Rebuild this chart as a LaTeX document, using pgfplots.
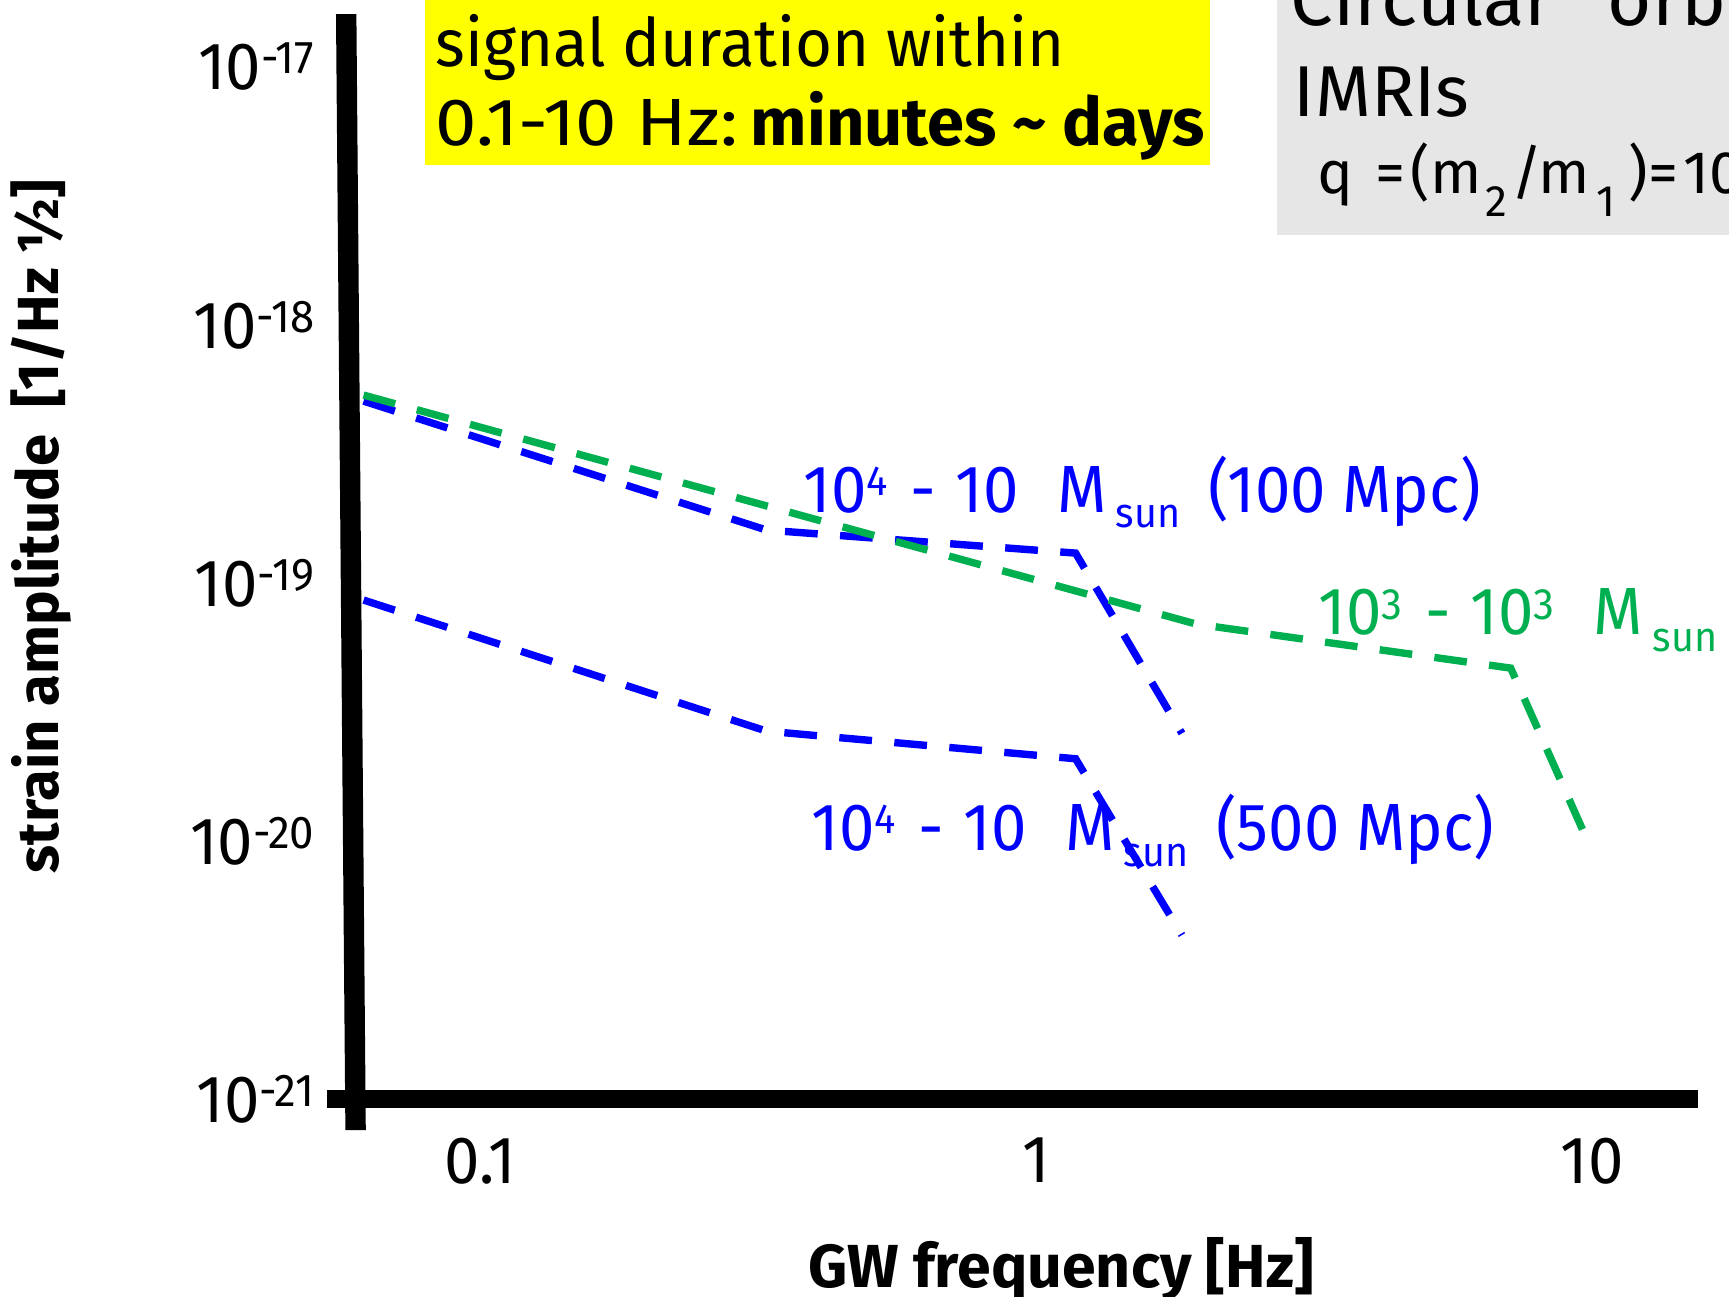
\documentclass[border=0pt]{standalone}
\usepackage{graphicx}
\usepackage{pgfplots}
\pgfplotsset{compat=1.18}
\usepackage{pgfplotstable}
\usepackage{fontspec}
\setmainfont{Fira Sans}[FakeStretch=0.95]
\newfontfamily\wfont{Fira Sans}
\definecolor{pblue}{RGB}{0,0,255}
\definecolor{pgreen}{RGB}{0,176,80}
\definecolor{pyellow}{RGB}{255,255,0}
\definecolor{pgray}{RGB}{230,230,230}
\newlength\px \setlength\px{0.25bp}
\newcommand\mainsize{\fontsize{16.7bp}{20bp}\selectfont}
\newcommand\supx[3]{\raisebox{#2}{\fontsize{#1}{#1}\selectfont #3}}
\newcommand\subx[3]{\raisebox{-#2}{\fontsize{#1}{#1}\selectfont #3}}
\newcommand\at[2]{\makebox[#1\px][l]{#2}}

\pgfplotstableread{
f h
0.06174 5.07e-19
0.3276 1.604e-19
1.178 1.306e-19
1.830 2.613e-20
}\bluenear
\pgfplotstableread{
f h
0.06174 8.59e-20
0.3276 2.667e-20
1.178 2.084e-20
1.830 4.32e-21
}\bluefar
\pgfplotstableread{
f h
0.06174 5.35e-19
1.943 6.93e-20
7.141 4.68e-20
9.610 1.11e-20
}\greeneq

\begin{document}
\begin{tikzpicture}
\path[use as bounding box] (0,0) rectangle (432.25bp,-324.25bp);
\clip (0,0) rectangle (432.25bp,-324.25bp);
\begin{axis}[
  at={(87.5bp,-274.75bp)}, anchor=south west,
  scale only axis, width=337bp, height=271.25bp,
  xmode=log, ymode=log,
  xmin=0.05836, xmax=15.51, ymin=1e-21, ymax=1.603e-17,
  axis line style={draw=none},
  tick style={draw=none}, minor tick style={draw=none},
  major tick length=0pt, minor tick length=0pt,
  xtick={0.1,1,10}, xticklabels={0.1,1,10},
  ytick={1e-21,1e-20,1e-19,1e-18,1e-17},
  yticklabels={{10\supx{11.5bp}{4bp}{-21}},{10\supx{11.5bp}{4bp}{-20}},{10\supx{11.5bp}{4bp}{-19}},{10\supx{11.5bp}{4bp}{-18}},{10\supx{11.5bp}{4bp}{-17}}},
  tick label style={font=\mainsize, inner sep=0pt},
  yticklabel style={anchor=east, xshift=-8.75bp},
  xticklabel style={anchor=north, yshift=-9.5bp},
  clip=false,
]
\addplot[pblue, line width=1.85bp, dash pattern=on 8.2bp off 5.6bp] table[x=f,y=h] {\bluenear};
\addplot[pblue, line width=1.85bp, dash pattern=on 8.2bp off 5.6bp] table[x=f,y=h] {\bluefar};
\addplot[pgreen, line width=1.85bp, dash pattern=on 8.2bp off 5.6bp] table[x=f,y=h] {\greeneq};
\draw[line width=5.1bp] ([xshift=-0.95bp]rel axis cs:0,1) -- ([xshift=1.4bp,yshift=-7.75bp]rel axis cs:0,0);
\draw[line width=4.5bp] ([xshift=-5.75bp]rel axis cs:0,0) -- (rel axis cs:1,0);
\end{axis}
\begin{scope}[x=0.25bp,y=-0.25bp]
\fill[pyellow] (425,0) rectangle (1210,165);
\node[anchor=base west, inner sep=0pt, font=\mainsize] at (435,66.7) {signal duration within};
\node[anchor=base west, inner sep=0pt, font=\mainsize] at (435,145.7) {\at{315}{\scalebox{1.17}[1]{0.1-10 Hz:}}{\wfont\bfseries minutes \textasciitilde{} days}};
\fill[pgray] (1277,0) rectangle (1740,235);
\node[anchor=base west, inner sep=0pt, font=\wfont\fontsize{19bp}{22bp}\selectfont] at (1290,25) {\at{317}{Circular}orbit};
\node[anchor=base west, inner sep=0pt, font=\wfont\fontsize{18bp}{20bp}\selectfont] at (1293,116.7) {IMRIs};
\node[anchor=base west, inner sep=0pt, font=\wfont\fontsize{15bp}{17bp}\selectfont] at (1317,193.3) {\at{58}{q}\at{35}{=}\at{20}{(}\at{55}{m}\at{26}{\subx{11bp}{5.7bp}{2}}\at{27}{/}\at{58}{m}\at{32}{\subx{11bp}{5.7bp}{1}}\at{20}{)}\at{35}{=}10\supx{9bp}{5bp}{-3}};
\node[anchor=base west, inner sep=0pt, font=\mainsize, text=pblue] at (803,512.7) {\at{107}{10\supx{10.5bp}{4.3bp}{4}}\at{45}{-}\at{101.7}{10}\at{58.3}{M}\at{92.5}{\subx{10.4bp}{3.8bp}{sun}}(100 Mpc)};
\node[anchor=base west, inner sep=0pt, font=\mainsize, text=pblue] at (811,851) {\at{107}{10\supx{10.5bp}{4.3bp}{4}}\at{45}{-}\at{101.7}{10}\at{58.3}{M}\at{92.5}{\subx{10.4bp}{3.8bp}{sun}}(500 Mpc)};
\node[anchor=base west, inner sep=0pt, font=\mainsize, text=pgreen] at (1318,635) {\at{107}{10\supx{11bp}{3.75bp}{3}}\at{45}{-}\at{123}{10\supx{11bp}{3.75bp}{3}}\at{59}{M}\subx{10.4bp}{4.2bp}{sun}};
\node[anchor=base, inner sep=0pt, font=\wfont\bfseries\fontsize{15.2bp}{18bp}\selectfont] at (1061,1288) {GW frequency [Hz]};
\node[anchor=base, rotate=90, inner sep=0pt, font=\wfont\bfseries\fontsize{14.5bp}{18bp}\selectfont] at (58,526.5) {strain amplitude\ \ [1/Hz\ ½]};
\end{scope}
\end{tikzpicture}
\end{document}
